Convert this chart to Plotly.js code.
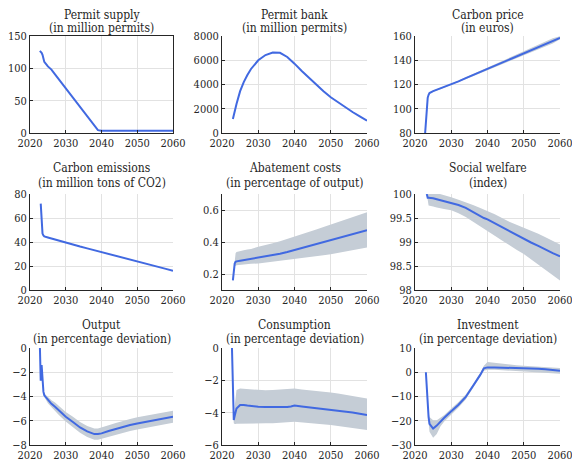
<!DOCTYPE html>
<html>
<head>
<meta charset="utf-8">
<script src="https://cdn.plot.ly/plotly-3.0.1.min.js"></script>
<style>
  html, body { margin: 0; padding: 0; background: #ffffff; overflow: hidden; }
  #chart { width: 572px; height: 461px; }
</style>
</head>
<body>
<div id="chart"></div>
<script>
// Simulation horizon (quarterly at the start, then yearly / biennial)
const t = [2022.75, 2023, 2023.25, 2023.5, 2023.75, 2024, 2025, 2026, 2027, 2028,
           2030, 2032, 2034, 2036, 2038, 2039, 2040, 2042, 2044, 2046,
           2048, 2050, 2052, 2054, 2056, 2058, 2060];

// Permit supply (million permits)
const permitSupply = [127, 126, 124, 121, 114, 110, 103, 98, 90.8, 83.6,
                      69.2, 54.8, 40.4, 26, 11.6, 4.4, 3.5, 3.5, 3.5, 3.5,
                      3.5, 3.5, 3.5, 3.5, 3.5, 3.5, 3.5];

// Permit bank (million permits)
const permitBank = [null, 1150, 1480, 1800, 2100, 2400, 3450, 4200, 4780, 5280,
                    6000, 6430, 6640, 6610, 6270, 6010, 5720, 5110, 4530, 3980,
                    3450, 2950, 2520, 2110, 1730, 1370, 1014];

// Carbon price (euros) with confidence band
const carbonPrice = [78, 88, 104, 109, 111.5, 113, 114.5, 115.6, 116.7, 117.8,
                     120, 122.6, 125.2, 127.8, 130.4, 131.7, 133, 135.6, 138.2, 140.8,
                     143.4, 146, 148.5, 151, 153.5, 156, 158.5];
const carbonPriceHi = [78, 88, 104, 109.3, 111.9, 113.5, 115, 116.1, 117.3, 118.4,
                       120.7, 123.4, 126.1, 128.8, 131.5, 132.8, 134.2, 136.9, 139.6, 142.3,
                       145, 147.7, 150.3, 152.9, 155.5, 158.1, 159.7];
const carbonPriceLo = [78, 88, 104, 108.7, 111.1, 112.5, 114, 115.1, 116.1, 117.2,
                       119.3, 121.8, 124.3, 126.8, 129.3, 130.6, 131.8, 134.3, 136.8, 139.3,
                       141.8, 144.3, 146.7, 149.1, 151.5, 153.9, 157.3];

// Carbon emissions (million tons of CO2)
const emissions = [null, 72, 52, 47, 45.5, 44.7, 43.8, 42.9, 42.0, 41.1,
                   39.2, 37.7, 36.2, 34.7, 33.2, 32.45, 31.7, 30.2, 28.6, 27.1,
                   25.5, 24, 22.4, 20.8, 19.2, 17.6, 16];

// Abatement costs (percentage of output)
const abatement = [null, 0.16, 0.22, 0.265, 0.276, 0.279, 0.283, 0.287, 0.291, 0.294,
                   0.300, 0.308, 0.317, 0.327, 0.338, 0.344, 0.350, 0.362, 0.374, 0.386,
                   0.398, 0.410, 0.423, 0.436, 0.449, 0.462, 0.474];
const abatementHi = [null, 0.17, 0.23, 0.275, 0.33, 0.338, 0.345, 0.349, 0.353, 0.357,
                     0.37, 0.38, 0.392, 0.405, 0.419, 0.426, 0.433, 0.447, 0.462, 0.478,
                     0.494, 0.51, 0.525, 0.54, 0.555, 0.57, 0.586];
const abatementLo = [null, 0.15, 0.21, 0.255, 0.25, 0.255, 0.258, 0.26, 0.262, 0.264,
                     0.266, 0.27, 0.275, 0.281, 0.287, 0.29, 0.293, 0.299, 0.305, 0.311,
                     0.317, 0.324, 0.332, 0.34, 0.348, 0.356, 0.365];

// Social welfare (index)
const welfare = [null, null, 100, 99.92, 99.92, 99.92, 99.91, 99.89, 99.87, 99.85,
                 99.82, 99.77, 99.71, 99.62, 99.53, 99.50, 99.47, 99.39, 99.30, 99.22,
                 99.14, 99.07, 98.99, 98.92, 98.84, 98.77, 98.70];
const welfareHi = [null, null, 100, 99.95, 100.05, 100.05, 100.04, 100.02, 100.0, 99.98,
                   99.93, 99.88, 99.83, 99.77, 99.71, 99.68, 99.65, 99.58, 99.50, 99.42,
                   99.36, 99.30, 99.24, 99.17, 99.10, 99.02, 98.95];
const welfareLo = [null, null, 100, 99.88, 99.76, 99.75, 99.74, 99.72, 99.70, 99.69,
                   99.66, 99.60, 99.52, 99.43, 99.33, 99.28, 99.23, 99.13, 99.03, 98.93,
                   98.84, 98.75, 98.64, 98.53, 98.42, 98.31, 98.20];

// Output (percentage deviation)
const output = [0.3, -2.7, -1.4, -3.0, -3.6, -3.9, -4.3, -4.6, -4.85, -5.12,
                -5.67, -6.1, -6.55, -6.88, -7.1, -7.1, -7.04, -6.85, -6.67, -6.5,
                -6.35, -6.22, -6.11, -6.0, -5.88, -5.77, -5.67];
const outputHi = [0.3, -2.7, -1.4, -3.0, -3.5, -3.75, -4.05, -4.3, -4.5, -4.75,
                  -5.27, -5.68, -6.1, -6.43, -6.63, -6.64, -6.57, -6.37, -6.18, -6.0,
                  -5.85, -5.72, -5.6, -5.48, -5.37, -5.27, -5.17];
const outputLo = [0.3, -2.7, -1.4, -3.0, -3.7, -4.05, -4.55, -4.9, -5.2, -5.5,
                  -6.07, -6.52, -7.0, -7.33, -7.57, -7.57, -7.51, -7.33, -7.16, -7.0,
                  -6.85, -6.72, -6.6, -6.48, -6.37, -6.27, -6.17];

// Consumption (percentage deviation)
const consumption = [0, -3.5, -4.45, -4.2, -3.95, -3.74, -3.53, -3.52, -3.56, -3.6,
                     -3.64, -3.65, -3.66, -3.66, -3.65, -3.62, -3.56, -3.62, -3.67, -3.71,
                     -3.76, -3.82, -3.87, -3.93, -3.99, -4.07, -4.15];
const consumptionHi = [0, -3.5, -4.3, -3.6, -3.0, -2.6, -2.5, -2.52, -2.55, -2.58,
                       -2.6, -2.62, -2.6, -2.58, -2.56, -2.55, -2.5, -2.56, -2.6, -2.64,
                       -2.69, -2.75, -2.81, -2.88, -2.95, -3.03, -3.12];
const consumptionLo = [0, -3.5, -4.65, -4.7, -4.7, -4.68, -4.66, -4.65, -4.65, -4.66,
                       -4.66, -4.66, -4.65, -4.62, -4.6, -4.58, -4.56, -4.6, -4.64, -4.68,
                       -4.72, -4.77, -4.82, -4.88, -4.94, -5.0, -5.07];

// Investment (percentage deviation)
const investment = [null, 0, -7, -13.4, -18.5, -21.3, -23.2, -22.0, -20.4, -18.9,
                    -16.1, -13.4, -10.2, -5.9, -1.1, 1.6, 2.0, 2.0, 1.95, 1.9,
                    1.8, 1.7, 1.55, 1.4, 1.2, 0.9, 0.6];
const investmentHi = [null, 0, -6.5, -12.5, -16.5, -18.5, -19.8, -19.8, -18.9, -17.7,
                      -14.9, -12.3, -9.2, -5.0, -0.2, 2.7, 4.2, 3.8, 3.5, 3.2,
                      2.9, 2.7, 2.5, 2.3, 2.1, 1.9, 1.8];
const investmentLo = [null, 0, -7.5, -14.5, -20.5, -24.5, -27, -25.5, -22.4, -20.4,
                      -17.3, -14.5, -11.2, -6.8, -1.8, 0.6, 1.0, 1.0, 0.9, 0.8,
                      0.7, 0.5, 0.3, 0.0, -0.2, -0.4, -0.6];

// Panel titles and y-axis settings
const titles = [
  ["Permit supply", "(in million permits)"],
  ["Permit bank", "(in million permits)"],
  ["Carbon price", "(in euros)"],
  ["Carbon emissions", "(in million tons of CO2)"],
  ["Abatement costs", "(in percentage of output)"],
  ["Social welfare", "(index)"],
  ["Output", "(in percentage deviation)"],
  ["Consumption", "(in percentage deviation)"],
  ["Investment", "(in percentage deviation)"]
];
const yRanges = [[0, 150], [0, 8000], [80, 160], [0, 80], [0.1, 0.7], [98, 100], [-8, 0], [-6, 0], [-30, 10]];
const yTicks = [
  [0, 50, 100, 150],
  [0, 2000, 4000, 6000, 8000],
  [80, 100, 120, 140, 160],
  [0, 20, 40, 60, 80],
  [0.2, 0.4, 0.6],
  [98, 98.5, 99, 99.5, 100],
  [-8, -6, -4, -2, 0],
  [-6, -4, -2, 0],
  [-30, -20, -10, 0, 10]
];
const xTicks = [2020, 2030, 2040, 2050, 2060];

const series = [permitSupply, permitBank, carbonPrice, emissions, abatement, welfare, output, consumption, investment];
const bands = [null, null, [carbonPriceLo, carbonPriceHi], null, [abatementLo, abatementHi],
               [welfareLo, welfareHi], [outputLo, outputHi], [consumptionLo, consumptionHi],
               [investmentLo, investmentHi]];

// Page geometry (pixels)
const W = 572, H = 461;
const colPx = [[30, 173], [222, 367], [415, 560]];
const rowPx = [[36, 133], [194, 290], [348, 445]];
const titlePx = [[15, 28], [168.5, 183], [324.5, 338.5]];

const LINE = '#4169e1';
const BAND = '#c5cdd6';
const AXIS = '#262626';
const GRID = '#e2e2e2';
const FONT = "'DejaVu Serif Condensed', 'DejaVu Serif'";

const traces = [];
const layout = {
  width: W, height: H,
  margin: {l: 0, r: 0, t: 0, b: 0},
  paper_bgcolor: '#ffffff',
  plot_bgcolor: '#ffffff',
  showlegend: false,
  font: {family: FONT, size: 11, color: AXIS},
  annotations: []
};

for (let i = 0; i < 9; i++) {
  const r = Math.floor(i / 3), c = i % 3;
  const suf = i === 0 ? '' : String(i + 1);
  const xa = 'x' + suf, ya = 'y' + suf;

  // Confidence band as a closed polygon
  if (bands[i]) {
    const [lo, hi] = bands[i];
    const bx = [], by = [];
    for (let k = 0; k < t.length; k++) if (hi[k] !== null) { bx.push(t[k]); by.push(hi[k]); }
    for (let k = t.length - 1; k >= 0; k--) if (lo[k] !== null) { bx.push(t[k]); by.push(lo[k]); }
    traces.push({x: bx, y: by, xaxis: xa, yaxis: ya, type: 'scatter', mode: 'lines',
                 fill: 'toself', fillcolor: BAND, line: {width: 0}, hoverinfo: 'skip'});
  }
  traces.push({x: t, y: series[i], xaxis: xa, yaxis: ya, type: 'scatter', mode: 'lines',
               connectgaps: false, line: {color: LINE, width: 2}});

  const box = i === 0;
  layout['xaxis' + suf] = {
    domain: [colPx[c][0] / W, colPx[c][1] / W],
    anchor: ya, range: [2020, 2060], tickvals: xTicks,
    showgrid: true, gridcolor: GRID, zeroline: false,
    showline: true, linecolor: AXIS, linewidth: 1, mirror: box,
    ticks: 'inside', ticklen: 3, tickcolor: AXIS, ticklabeloverflow: 'allow',
    automargin: false
  };
  layout['yaxis' + suf] = {
    domain: [1 - rowPx[r][1] / H, 1 - rowPx[r][0] / H],
    anchor: xa, range: yRanges[i], tickvals: yTicks[i],
    showgrid: true, gridcolor: GRID, zeroline: false,
    showline: true, linecolor: AXIS, linewidth: 1, mirror: box,
    ticks: 'inside', ticklen: 3, tickcolor: AXIS, ticklabeloverflow: 'allow',
    automargin: false
  };

  // Two-line panel title
  const cx = (colPx[c][0] + colPx[c][1]) / 2 / W;
  titles[i].forEach((txt, j) => {
    layout.annotations.push({
      text: txt, xref: 'paper', yref: 'paper', x: cx, y: 1 - titlePx[r][j] / H,
      xanchor: 'center', yanchor: 'middle', showarrow: false,
      font: {family: FONT, size: 12, color: AXIS}
    });
  });
}

Plotly.newPlot('chart', traces, layout, {staticPlot: true, displayModeBar: false});
</script>
</body>
</html>
